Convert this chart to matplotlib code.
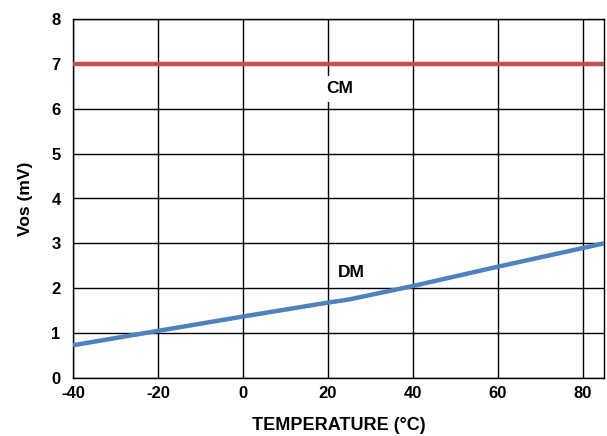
"""Vos vs temperature chart (CM / DM)."""

import matplotlib

matplotlib.use("Agg")
import matplotlib.pyplot as plt

temps = [-40, -20, 0, 20, 25, 40, 60, 85]
dm_vos = [0.73, 1.05, 1.37, 1.68, 1.75, 2.05, 2.48, 3.0]
cm_temps = [-40, 85]
cm_vos = [7.0, 7.0]

x_ticks = [-40, -20, 0, 20, 40, 60, 80]
y_ticks = [0, 1, 2, 3, 4, 5, 6, 7, 8]

plt.rcParams["font.family"] = ["Liberation Sans", "DejaVu Sans"]
plt.rcParams["font.weight"] = "bold"
plt.rcParams["axes.unicode_minus"] = False

fig = plt.figure(figsize=(6.07, 4.36), dpi=100)
ax = fig.add_axes([73 / 607, 1 - 378 / 436, (604 - 73) / 607, (378 - 19) / 436])

ax.plot(cm_temps, cm_vos, color="#C0504D", linewidth=3.2, solid_capstyle="butt", zorder=3)
ax.plot(temps, dm_vos, color="#4F81BD", linewidth=3.2, solid_capstyle="butt", zorder=3)

ax.text(22.8, 6.45, "CM", fontsize=12.5, fontweight="bold", ha="center", va="center",
        bbox={"fc": "white", "ec": "none", "pad": 4}, zorder=4)
ax.text(25.6, 2.34, "DM", fontsize=12.5, fontweight="bold", ha="center", va="center", zorder=4)

ax.set_xlim(-40, 85)
ax.set_ylim(0, 8)
ax.set_xticks(x_ticks)
ax.set_yticks(y_ticks)
ax.grid(True, color="black", linewidth=1.0)
ax.tick_params(length=0, labelsize=12, pad=9)
ax.tick_params(axis="x", pad=6)
for lbl in ax.get_xticklabels() + ax.get_yticklabels():
    lbl.set_fontweight("bold")
for sp in ax.spines.values():
    sp.set_linewidth(1.0)

ax.set_xlabel("TEMPERATURE (°C)", fontsize=13, fontweight="bold")
ax.set_ylabel("Vos (mV)", fontsize=12.5, fontweight="bold", labelpad=13)
ax.xaxis.set_label_coords(0.5, -(425 - 378) / (378 - 19), transform=ax.transAxes)
ax.xaxis.label.set_va("center")

fig.savefig("out.png", dpi=100)
